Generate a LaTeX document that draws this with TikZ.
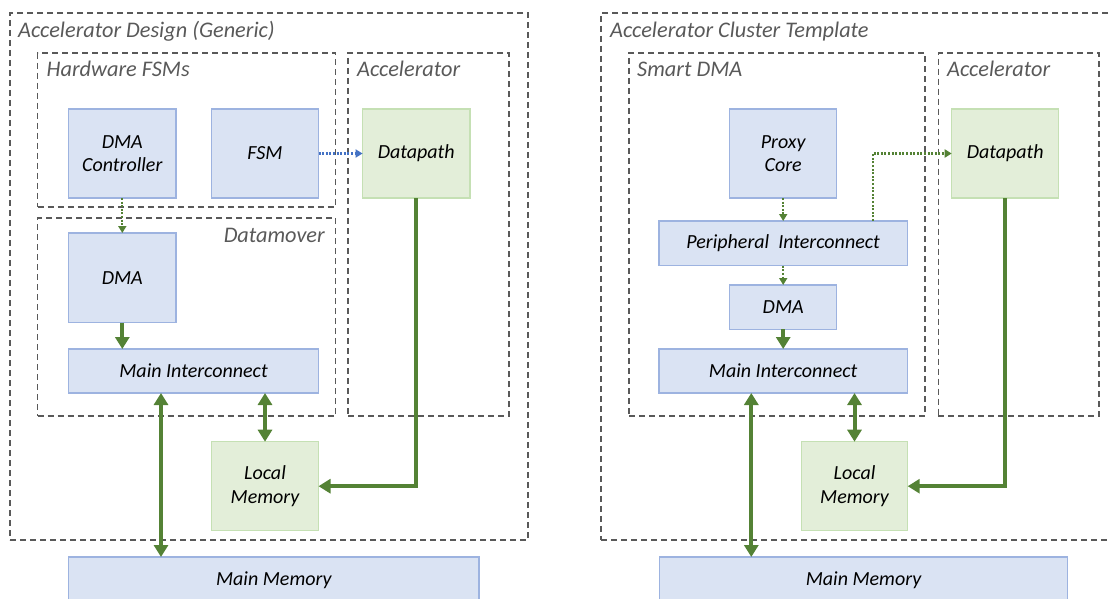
\documentclass[tikz,border=0pt]{standalone}
\usepackage{fontspec}
\setmainfont{Carlito}
\usetikzlibrary{arrows.meta}
\definecolor{bfill}{HTML}{DAE3F3}
\definecolor{bline}{HTML}{9DB3E0}
\definecolor{gfill}{HTML}{E3EED9}
\definecolor{gline}{HTML}{C5E0B4}
\definecolor{dgreen}{HTML}{548235}
\definecolor{dgray}{HTML}{595959}
\definecolor{dblue}{HTML}{4472C4}
\tikzset{
  base/.style={anchor=north west, inner sep=0pt, outer sep=0pt, align=center,
    font=\fontsize{20}{23.5}\selectfont\itshape, text=black},
  bbox/.style={base, draw=bline, fill=bfill, line width=1.2pt},
  gbox/.style={base, draw=gline, fill=gfill, line width=1.2pt},
  region/.style={anchor=north west, inner sep=0pt, outer sep=0pt, draw=dgray,
    line width=1.3pt, dash pattern=on 6pt off 4pt},
  rtitle/.style={anchor=base west, inner sep=0pt, text=dgray,
    font=\fontsize{22.3}{26}\selectfont\itshape},
  thickarrow/.style={draw=dgreen, line width=4pt, -{Triangle[width=14pt,length=12pt]}},
  dblarrow/.style={draw=dgreen, line width=4pt, {Triangle[width=14pt,length=12pt]}-{Triangle[width=14pt,length=12pt]}},
  dotarrow/.style={line width=2.2pt, dash pattern=on 2pt off 1.6pt},
}
\begin{document}
\begin{tikzpicture}[x=1pt,y=-1pt]
\useasboundingbox (0,0) rectangle (1111,599);
% ---------------- Left diagram ----------------
\node[region, minimum width=518pt, minimum height=527pt] (outerL) at (10,13) {};
\node[rtitle] (tOuterL) at (18,38) {Accelerator Design (Generic)};
\node[region, minimum width=298pt, minimum height=154pt] (hwfsm) at (37.7,53) {};
\node[rtitle] (tHw) at (46.5,77) {Hardware FSMs};
\node[region, minimum width=161pt, minimum height=363pt] (accL) at (348,53) {};
\node[rtitle] (tAccL) at (357,77) {Accelerator};
\node[region, minimum width=298pt, minimum height=198pt] (dmover) at (37.7,218) {};
\node[rtitle, anchor=base east] (tDm) at (325,242) {Datamover};

\node[bbox, minimum width=107.4pt, minimum height=89pt] (dmactl) at (68.6,109) {DMA\\Controller};
\node[bbox, minimum width=107pt, minimum height=89pt] (fsm) at (211.5,109) {FSM};
\node[gbox, minimum width=107.4pt, minimum height=89pt] (dpL) at (362.6,109) {Datapath};
\node[bbox, minimum width=107.4pt, minimum height=89.7pt] (dmaL) at (68.6,233) {DMA};
\node[bbox, minimum width=249.9pt, minimum height=44pt] (miL) at (68.6,349) {Main Interconnect};
\node[gbox, minimum width=107pt, minimum height=89pt] (lmL) at (211.5,441.7) {Local\\Memory};
\node[bbox, minimum width=410.4pt, minimum height=46pt] (mmL) at (68.6,557) {Main Memory};
\coordinate (xL) at (161,0);

\draw[dotarrow, draw=dblue, -{Triangle[width=8pt,length=7pt,fill=dblue]}] (fsm.east) -- (dpL.west);
\draw[dotarrow, draw=dgreen, -{Triangle[width=8pt,length=7pt,fill=dgreen]}] (dmactl.south) -- (dmaL.north);
\draw[thickarrow] (dmaL.south) -- (dmaL.south |- miL.north);
\draw[dblarrow] (miL.south -| xL) -- (mmL.north -| xL);
\draw[dblarrow] (lmL.north |- miL.south) -- (lmL.north);
\draw[thickarrow] (dpL.south) |- (lmL.east);

% ---------------- Right diagram ----------------
\node[region, minimum width=530pt, minimum height=527pt] (outerR) at (601,13) {};
\node[rtitle] (tOuterR) at (610,38) {Accelerator Cluster Template};
\node[region, minimum width=296pt, minimum height=363pt] (sdma) at (629,53) {};
\node[rtitle] (tSd) at (637,77) {Smart DMA};
\node[region, minimum width=160.7pt, minimum height=363pt] (accR) at (938.3,53) {};
\node[rtitle] (tAccR) at (947,77) {Accelerator};

\node[bbox, minimum width=107pt, minimum height=89pt] (pc) at (729.7,109) {Proxy\\Core};
\node[bbox, minimum width=248.3pt, minimum height=44.7pt] (pi) at (659,221) {Peripheral\ \ Interconnect};
\node[bbox, minimum width=107pt, minimum height=44.3pt] (dmaR) at (729.7,285) {DMA};
\node[bbox, minimum width=248.3pt, minimum height=44pt] (miR) at (659,349) {Main Interconnect};
\node[gbox, minimum width=107pt, minimum height=89pt] (dpR) at (951.7,109) {Datapath};
\node[gbox, minimum width=106.4pt, minimum height=89pt] (lmR) at (801.3,441.7) {Local\\Memory};
\node[bbox, minimum width=408.4pt, minimum height=46pt] (mmR) at (659.3,557) {Main Memory};
\coordinate (xR) at (751.3,0);
\coordinate (xP) at (872.7,0);

\draw[dotarrow, draw=dgreen, -{Triangle[width=8pt,length=7pt,fill=dgreen]}] (pc.south) -- (pc.south |- pi.north);
\draw[dotarrow, draw=dgreen, -{Triangle[width=8pt,length=7pt,fill=dgreen]}] (pi.south -| dmaR.north) -- (dmaR.north);
\draw[dotarrow, draw=dgreen, -{Triangle[width=8pt,length=7pt,fill=dgreen]}] (pi.north -| xP) |- (dpR.west);
\draw[thickarrow] (dmaR.south) -- (dmaR.south |- miR.north);
\draw[dblarrow] (miR.south -| xR) -- (mmR.north -| xR);
\draw[dblarrow] (lmR.north |- miR.south) -- (lmR.north);
\draw[thickarrow] (dpR.south) |- (lmR.east);
\end{tikzpicture}
\end{document}
